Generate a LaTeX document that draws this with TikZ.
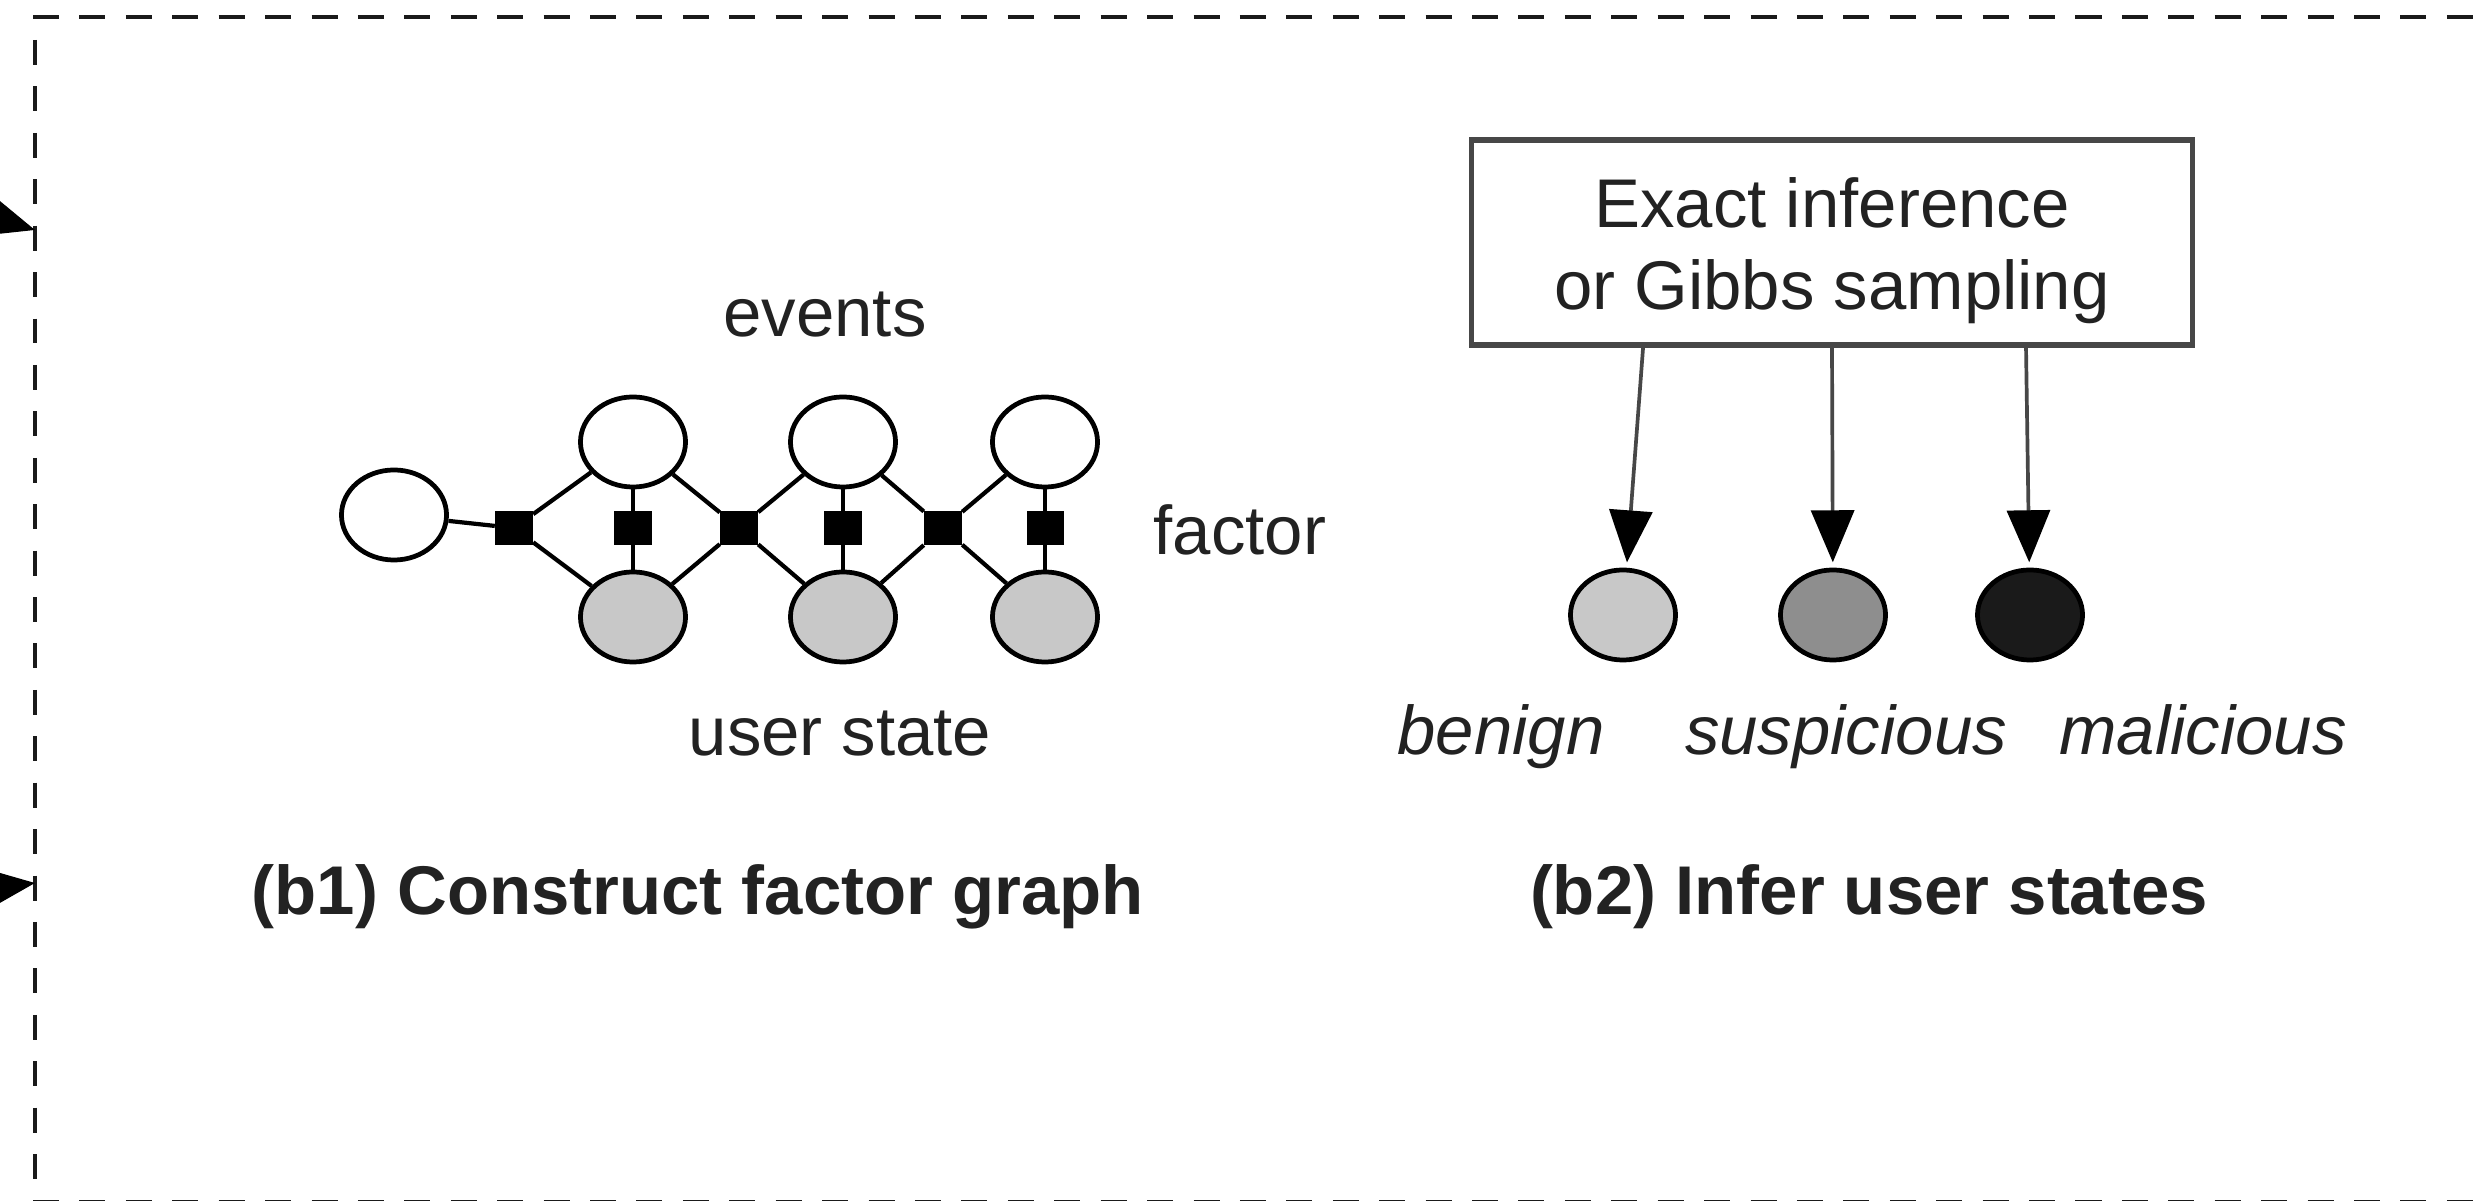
\documentclass[tikz,border=0pt]{standalone}
\usepackage{fontspec}
\setmainfont{Liberation Sans}
\usetikzlibrary{arrows.meta,calc,shapes.geometric}

\definecolor{lightfill}{HTML}{C8C8C8}
\definecolor{midfill}{HTML}{8E8E8E}
\definecolor{darkfill}{HTML}{1A1A1A}
\definecolor{inkgray}{HTML}{222222}
\definecolor{boxgray}{HTML}{474747}

\begin{document}
\begin{tikzpicture}[x=0.01cm,y=-0.01cm,
  every node/.style={font=\fontsize{19.6}{23.3}\selectfont, text=inkgray},
  lbl/.style={inner sep=0pt},
  caplbl/.style={inner sep=0pt, font=\fontsize{19.6}{23.3}\selectfont\bfseries},
  statelbl/.style={inner sep=0pt, font=\fontsize{19.6}{23.3}\selectfont\itshape},
  evnode/.style={ellipse, draw=black, line width=1.35pt, fill=white,
    minimum width=1.05cm, minimum height=0.9cm, inner sep=0pt},
  usnode/.style={evnode, fill=lightfill},
  stnode/.style={evnode},
  facnode/.style={rectangle, fill=black, minimum width=0.37cm,
    minimum height=0.33cm, inner sep=0pt},
  link/.style={line width=1.2pt, draw=black},
  infarrow/.style={line width=1.05pt, draw=boxgray, shorten >=1.5pt,
    -{Triangle[length=14.8pt,width=12.2pt,color=black]}},
  sidearrow/.style={line width=1pt, draw=black,
    -{Triangle[length=14.8pt,width=12.2pt,color=black]}},
  framebox/.style={line width=1.4pt, draw=darkfill},
]
\useasboundingbox (0,0) rectangle (2478,1201);
\clip (0,0) rectangle (2478,1201);
\fill[white] (0,0) rectangle (2478,1201);

% dashed frame of the panel
\draw[framebox, dash pattern=on 7.4pt off 5.8pt] (33,17) -- (2520,17);
\draw[framebox, dash pattern=on 7.1pt off 6.1pt] (35,40) -- (35,1240);
\draw[framebox, dash pattern=on 7.4pt off 5.8pt] (33,1202) -- (2520,1202);

% arrows entering the panel from the left
\coordinate (inA) at (-158,172);
\coordinate (tipA) at (35,230);
\coordinate (inB) at (-166,907);
\coordinate (tipB) at (35,883);
\draw[sidearrow] (inA) -- (tipA);
\draw[sidearrow] (inB) -- (tipB);

% (b1) factor graph: event variables, factors, user states
\node[evnode] (x0) at (394,515) {};
\node[facnode] (f1) at (514,528) {};
\node[evnode] (e1) at (633,442) {};
\node[facnode] (g1) at (633,528) {};
\node[usnode] (u1) at (633,617) {};
\node[facnode] (f2) at (739,528) {};
\node[evnode] (e2) at (843,442) {};
\node[facnode] (g2) at (843,528) {};
\node[usnode] (u2) at (843,617) {};
\node[facnode] (f3) at (943,528) {};
\node[evnode] (e3) at (1045,442) {};
\node[facnode] (g3) at (1045,528) {};
\node[usnode] (u3) at (1045,617) {};

\draw[link] (x0) -- (f1);
\draw[link] (f1) -- (e1);
\draw[link] (f1) -- (u1);
\draw[link] (e1) -- (g1) -- (u1);
\draw[link] (e1) -- (f2);
\draw[link] (u1) -- (f2);
\draw[link] (f2) -- (e2);
\draw[link] (f2) -- (u2);
\draw[link] (e2) -- (g2) -- (u2);
\draw[link] (e2) -- (f3);
\draw[link] (u2) -- (f3);
\draw[link] (f3) -- (e3);
\draw[link] (f3) -- (u3);
\draw[link] (e3) -- (g3) -- (u3);

\node[lbl, anchor=base] (evlbl) at (825,337) {events};
\node[lbl, anchor=base west] (faclbl) at (1153,555) {factor};
\node[lbl, anchor=base] (uslbl) at (840,756) {user state};
\node[caplbl, anchor=base] (capA) at (698,915) {(b1) Construct factor graph};

% (b2) inference and the three user states
\node[draw=boxgray, line width=1.5pt, minimum width=7.21cm,
  minimum height=2.05cm, inner sep=0pt] (infer) at (1832,242.5) {};
\node[lbl, anchor=base] (infA) at (1832,228) {Exact inference};
\node[lbl, anchor=base] (infB) at (1832,310) {or Gibbs sampling};

\node[stnode, fill=lightfill] (benign) at (1623,615) {};
\node[stnode, fill=midfill] (suspicious) at (1833,615) {};
\node[stnode, fill=darkfill] (malicious) at (2030,615) {};

\draw[infarrow] ($(infer.south west)!0.24!(infer.south east)$) -- (benign);
\draw[infarrow] (infer.south) -- (suspicious);
\draw[infarrow] ($(infer.south west)!0.767!(infer.south east)$) -- (malicious);

\node[statelbl, anchor=base] (bnlbl) at (1501,755) {benign};
\node[statelbl, anchor=base] (sulbl) at (1846,755) {suspicious};
\node[statelbl, anchor=base] (malbl) at (2203,755) {malicious};
\node[caplbl, anchor=base] (capB) at (1869,915) {(b2) Infer user states};
\end{tikzpicture}
\end{document}
